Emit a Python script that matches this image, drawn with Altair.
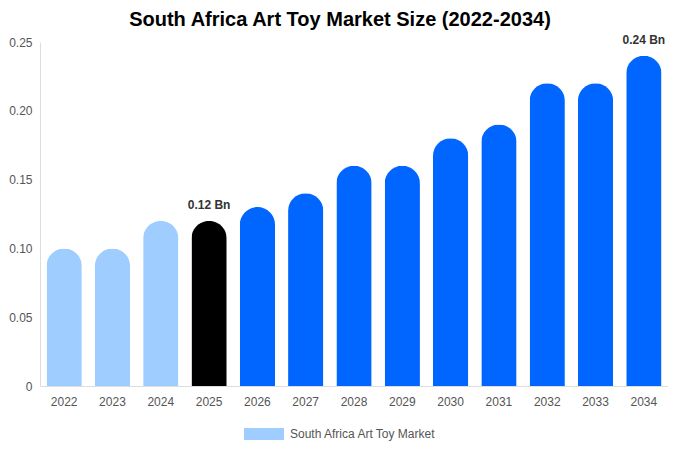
import altair as alt
import pandas as pd

years = ["2022", "2023", "2024", "2025", "2026", "2027", "2028", "2029", "2030", "2031", "2032", "2033", "2034"]
values = [0.10, 0.10, 0.12, 0.12, 0.13, 0.14, 0.16, 0.16, 0.18, 0.19, 0.22, 0.22, 0.24]
labels = ["", "", "", "0.12 Bn", "", "", "", "", "", "", "", "", "0.24 Bn"]
series_name = "South Africa Art Toy Market"

df = pd.DataFrame({"year": years, "value": values, "label": labels, "series": series_name})

x = alt.X("year:O", title=None, scale=alt.Scale(paddingInner=0.27, paddingOuter=0.135),
          axis=alt.Axis(labelAngle=0, labelColor="#555555", labelFontSize=12, labelPadding=10,
                        ticks=False, domainColor="#dddddd", labelFont="Liberation Sans"))
y = alt.Y("value:Q", title=None, scale=alt.Scale(domain=[0, 0.25], nice=False),
          axis=alt.Axis(values=[0, 0.05, 0.10, 0.15, 0.20, 0.25], grid=False, ticks=False,
                        domainColor="#dddddd", labelColor="#555555", labelFontSize=12, labelPadding=8,
                        labelFont="Liberation Sans",
                        labelExpr="datum.value == 0 ? '0' : format(datum.value, '.2f')"))

bars = alt.Chart(df).mark_bar(cornerRadiusTopLeft=18, cornerRadiusTopRight=18).encode(
    x=x,
    y=y,
    color=alt.Color("series:N",
                    scale=alt.Scale(domain=[series_name], range=["#a0cdff"]),
                    legend=alt.Legend(title=None, orient="none", legendX=218, legendY=386,
                                      symbolType="M-3.33,-1L3.33,-1L3.33,1L-3.33,1Z", symbolSize=144,
                                      symbolStrokeWidth=0, labelColor="#555555", labelFontSize=12,
                                      labelFont="Liberation Sans", padding=0, labelOffset=20),
                    condition=[{"test": "datum.year == '2025'", "value": "#000000"},
                               {"test": "toNumber(datum.year) > 2025", "value": "#0066ff"}]),
)

text = alt.Chart(df).transform_filter("datum.label != ''").mark_text(
    dy=-16, fontWeight="bold", fontSize=12, color="#333333", font="Liberation Sans"
).encode(x="year:O", y="value:Q", text="label:N")

chart = alt.layer(bars, text).properties(
    width=628, height=344,
    title=alt.TitleParams("South Africa Art Toy Market Size (2022-2034)", fontSize=20,
                          font="Liberation Sans", fontWeight="bold", color="#000000",
                          anchor="middle", dx=-14, offset=4),
    padding={"left": 32, "top": 34, "right": 0, "bottom": 56},
    autosize=alt.AutoSizeParams(type="none"),
).configure_view(stroke=None)

chart.save("out.html", embed_options={"renderer": "svg", "actions": False})
